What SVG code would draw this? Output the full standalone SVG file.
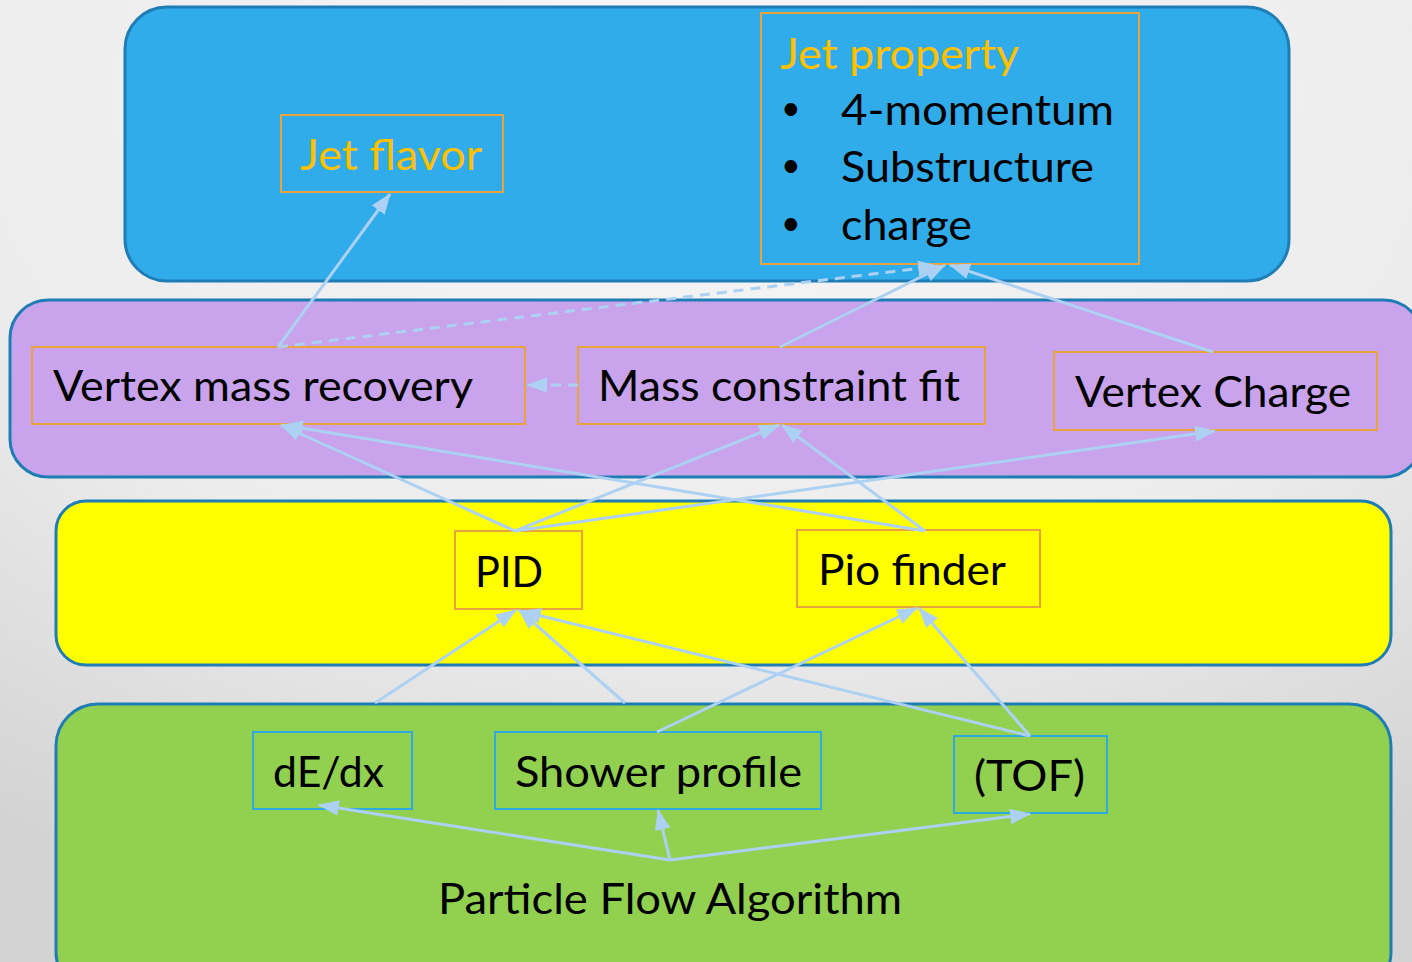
<svg xmlns="http://www.w3.org/2000/svg" width="1412" height="962" viewBox="0 0 1412 962">
<defs>
<radialGradient id="bg" cx="50%" cy="10%" r="90%">
<stop offset="0" stop-color="#f7f7f7"/>
<stop offset="0.6" stop-color="#ececec"/>
<stop offset="1" stop-color="#d3d3d3"/>
</radialGradient>
<marker id="ah" markerUnits="userSpaceOnUse" markerWidth="22" markerHeight="16" refX="19" refY="7.5" orient="auto" viewBox="0 0 21 15">
<path d="M0,0 L20,7.5 L0,15 Z" fill="#add1f3"/>
</marker>
<style>
.panel{stroke:#1f7db5;stroke-width:3}
.ob{fill:none;stroke:#e9a33c;stroke-width:2}
.bb{fill:none;stroke:#2eaae1;stroke-width:2}
.t{font-family:Lato,"Open Sans","Liberation Sans",sans-serif;font-size:43px;fill:#000}
.b{font-family:Lato,"Open Sans",sans-serif;font-size:34px;fill:#000}
.y{fill:#ffc000}
.c line{stroke:#add1f3;stroke-width:3;marker-end:url(#ah)}
.c line.d{stroke-dasharray:10 7}
</style>
</defs>
<rect width="1412" height="962" fill="url(#bg)"/>
<g id="panels">
<rect class="panel" x="125" y="7" width="1164" height="274" rx="42" fill="#31acea"/>
<rect class="panel" x="10" y="300" width="1412" height="177" rx="38" fill="#c9a3eb"/>
<rect class="panel" x="56" y="501" width="1335" height="164" rx="30" fill="#ffff00"/>
<rect class="panel" x="56" y="704" width="1335" height="290" rx="42" fill="#92d050"/>
</g>
<g id="jet-flavor">
<rect class="ob" x="281" y="115" width="222" height="77"/>
<text class="t y" x="300" y="170" textLength="182" lengthAdjust="spacingAndGlyphs">Jet flavor</text>
</g>
<g id="jet-property">
<rect class="ob" x="761" y="13" width="378" height="251"/>
<text class="t y" x="780" y="69" textLength="239" lengthAdjust="spacingAndGlyphs">Jet property</text>
<text class="b" x="781" y="120">•</text>
<text class="t" x="841" y="125" textLength="273" lengthAdjust="spacingAndGlyphs">4-momentum</text>
<text class="b" x="781" y="177">•</text>
<text class="t" x="841" y="182" textLength="253" lengthAdjust="spacingAndGlyphs">Substructure</text>
<text class="b" x="781" y="235">•</text>
<text class="t" x="841" y="240" textLength="131" lengthAdjust="spacingAndGlyphs">charge</text>
</g>
<g id="vertex-mass-recovery">
<rect class="ob" x="32" y="347" width="493" height="77"/>
<text class="t" x="53" y="401" textLength="420" lengthAdjust="spacingAndGlyphs">Vertex mass recovery</text>
</g>
<g id="mass-constraint-fit">
<rect class="ob" x="578" y="347" width="407" height="77"/>
<text class="t" x="598" y="401" textLength="362" lengthAdjust="spacingAndGlyphs">Mass constraint fit</text>
</g>
<g id="vertex-charge">
<rect class="ob" x="1054" y="352" width="323" height="78"/>
<text class="t" x="1075" y="407" textLength="276" lengthAdjust="spacingAndGlyphs">Vertex Charge</text>
</g>
<g id="pid">
<rect class="ob" x="455" y="531" width="127" height="78"/>
<text class="t" x="475" y="587" textLength="68" lengthAdjust="spacingAndGlyphs">PID</text>
</g>
<g id="pio-finder">
<rect class="ob" x="797" y="530" width="243" height="77"/>
<text class="t" x="818" y="585" textLength="188" lengthAdjust="spacingAndGlyphs">Pio finder</text>
</g>
<g id="dedx">
<rect class="bb" x="253" y="732" width="159" height="77"/>
<text class="t" x="273" y="787" textLength="111" lengthAdjust="spacingAndGlyphs">dE/dx</text>
</g>
<g id="shower-profile">
<rect class="bb" x="495" y="732" width="326" height="77"/>
<text class="t" x="515" y="787" textLength="287" lengthAdjust="spacingAndGlyphs">Shower profile</text>
</g>
<g id="tof">
<rect class="bb" x="954" y="736" width="153" height="77"/>
<text class="t" x="974" y="791" textLength="111" lengthAdjust="spacingAndGlyphs">(TOF)</text>
</g>
<g id="pfa">
<text class="t" x="438" y="914" textLength="464" lengthAdjust="spacingAndGlyphs">Particle Flow Algorithm</text>
</g>
<g id="connectors" class="c">
<line x1="278" y1="347" x2="390" y2="194"/>
<line class="d" x1="278" y1="347" x2="938" y2="266"/>
<line x1="780" y1="347" x2="945" y2="265"/>
<line x1="1213" y1="352" x2="950" y2="265"/>
<line class="d" x1="578" y1="385" x2="527" y2="385"/>
<line x1="515" y1="531" x2="281" y2="425"/>
<line x1="515" y1="531" x2="779" y2="425"/>
<line x1="515" y1="531" x2="1215" y2="431"/>
<line x1="925" y1="531" x2="283" y2="425"/>
<line x1="925" y1="531" x2="782" y2="425"/>
<line x1="375" y1="703" x2="516" y2="610"/>
<line x1="625" y1="703" x2="519" y2="610"/>
<line x1="657" y1="732" x2="917" y2="608"/>
<line x1="1030" y1="736" x2="521" y2="611"/>
<line x1="1030" y1="736" x2="919" y2="608"/>
<line x1="670" y1="860" x2="319" y2="805"/>
<line x1="670" y1="860" x2="658" y2="810"/>
<line x1="670" y1="860" x2="1030" y2="814"/>
</g>
</svg>
